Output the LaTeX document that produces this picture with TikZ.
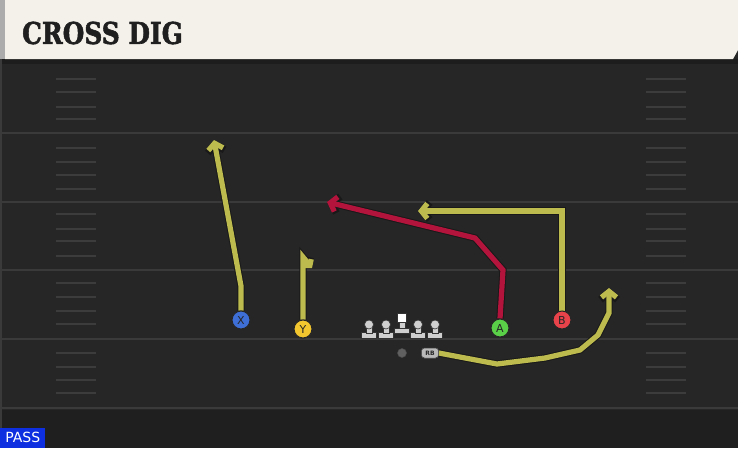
\documentclass[tikz,border=0pt]{standalone}
\usepackage{fontspec}
\setmainfont{DejaVu Sans}
\newfontfamily\titlefont{DejaVu Serif}[BoldFeatures={FakeBold=2}]
\usetikzlibrary{arrows.meta}
\definecolor{fieldbg}{HTML}{262626}
\definecolor{fielddark}{HTML}{1F1F1F}
\definecolor{yardline}{HTML}{3A3A3A}
\definecolor{hashcol}{HTML}{3C3C3C}
\definecolor{cream}{HTML}{F4F1EA}
\definecolor{routeyel}{HTML}{BDBB4E}
\definecolor{routered}{HTML}{B3143C}
\definecolor{pblue}{HTML}{3D6FD6}
\definecolor{pyellow}{HTML}{F2C62E}
\definecolor{pgreen}{HTML}{5ACF48}
\definecolor{pred}{HTML}{E8434B}
\definecolor{passblue}{HTML}{0D2FE0}
\definecolor{linegray}{HTML}{CFCFCF}
\tikzset{
  player/.style={circle, draw=black!85, line width=1pt, minimum size=18pt, inner sep=0pt,
    font=\fontsize{11}{11}\selectfont, text=black!85},
  routeunder/.style={draw=black!90, line width=7.2pt, line join=miter, -{Straight Barb[length=7pt,width=17pt,line width=7.2pt]}},
  routeyellow/.style={draw=routeyel, line width=5.2pt, line join=miter, -{Straight Barb[length=6pt,width=15pt,line width=5.2pt]}},
  routered/.style={draw=routered, line width=5.2pt, line join=miter, -{Straight Barb[length=6pt,width=15pt,line width=5.2pt]}},
  yard/.style={draw=yardline, line width=2pt},
  hashm/.style={draw=hashcol, line width=1.6pt},
  lineman/.style={fill=linegray, draw=black!80, line width=0.6pt},
  rbbox/.style={rounded corners=3pt, fill=gray!55, draw=black!75, line width=0.5pt, minimum width=17pt, minimum height=10pt, inner sep=0pt, font=\fontsize{6}{6}\selectfont\bfseries, text=black!85}
}
\begin{document}
\begin{tikzpicture}[x=1pt,y=-1pt]
\useasboundingbox (0,0) rectangle (738,448);
% field
\fill[fieldbg] (0,0) rectangle (738,448);
\fill[fielddark] (0,410) rectangle (738,448);
\fill[black!25!fieldbg] (0,59) rectangle (738,64);
\fill[yardline] (0,59) rectangle (2,448);
% yard lines
\foreach \y in {133,202,270,339,408} \draw[yard] (0,\y) -- (738,\y);
% hash marks
\foreach \y in {79,92,107,119,148,162,175,189,214,229,241,256,283,297,311,324,353,367,380,393} {
  \draw[hashm] (56,\y) -- (96,\y);
  \draw[hashm] (646,\y) -- (686,\y);
}
% title band
\fill[cream] (5,0) -- (738,0) -- (738,50) -- (733,59) -- (5,59) -- cycle;
\fill[gray!65] (0,0) rectangle (5,59);
\node[anchor=west, inner sep=0pt, xscale=0.83, font=\titlefont\fontsize{30}{30}\selectfont\bfseries, text=black!88] (title) at (22,33) {CROSS DIG};
% PASS label
\node[fill=passblue, text=white, anchor=south west, inner sep=0pt, minimum width=45pt, minimum height=20pt, font=\fontsize{14}{14}\selectfont] (pass) at (0,448) {PASS};
% players
\node[player, fill=pblue] (X) at (241,320) {X};
\node[player, fill=pyellow] (Y) at (303,329) {Y};
\node[player, fill=pgreen] (A) at (500,328) {A};
\node[player, fill=pred] (B) at (562,320) {B};
% route coordinates
\coordinate (x1) at (241,286);
\coordinate (xe) at (214,140);
\coordinate (y1) at (303,257);
\coordinate (ye) at (312,268);
\coordinate (a1) at (503,270);
\coordinate (a2) at (475,238);
\coordinate (ae) at (327,202);
\coordinate (b1) at (562,211);
\coordinate (be) at (418,211);
\coordinate (r1) at (497,364);
\coordinate (r2) at (545,358);
\coordinate (r3) at (580,350);
\coordinate (r4) at (598,335);
\coordinate (r5) at (609,313);
\coordinate (re) at (609,288);
% linemen
\foreach \lx in {369,386,418,435} {
  \filldraw[lineman] (\lx-7.5,332.5) rectangle (\lx+7.5,338);
  \filldraw[lineman] (\lx-3,326) rectangle (\lx+3,333);
  \filldraw[lineman] (\lx,324.5) circle (4.5);
}
\filldraw[lineman] (394.5,328) rectangle (409.5,333.5);
\filldraw[lineman] (399,321) rectangle (405,328.5);
\node[fill=white, draw=black!80, line width=0.6pt, minimum size=9pt, inner sep=0pt] (C) at (402,317.5) {};
% QB and RB
\node[circle, fill=gray!75!black, draw=black!70, line width=0.5pt, minimum size=9pt, inner sep=0pt] (QB) at (402,353) {};
\node[rbbox] (RB) at (430,353) {RB};
% routes (outline then colour)
\draw[routeunder] (X.north) -- (x1) -- (xe);
\draw[routeyellow] (X.north) -- (x1) -- (xe);
\draw[routeunder,-{Straight Barb[length=4.5pt,width=11pt,line width=7.2pt]}] (Y.north) -- (y1) -- (ye);
\draw[routeyellow,-{Straight Barb[length=4pt,width=10pt,line width=5.2pt]}] (Y.north) -- (y1) -- (ye);
\draw[routeunder] (A.north) -- (a1) -- (a2) -- (ae);
\draw[routered] (A.north) -- (a1) -- (a2) -- (ae);
\draw[routeunder] (B.north) -- (b1) -- (be);
\draw[routeyellow] (B.north) -- (b1) -- (be);
\draw[routeunder] (RB.east) -- (r1) -- (r2) -- (r3) -- (r4) -- (r5) -- (re);
\draw[routeyellow] (RB.east) -- (r1) -- (r2) -- (r3) -- (r4) -- (r5) -- (re);
% redraw players on top
\node[player, fill=pblue] at (X) {X};
\node[player, fill=pyellow] at (Y) {Y};
\node[player, fill=pgreen] at (A) {A};
\node[player, fill=pred] at (B) {B};
\node[rbbox] at (RB) {RB};
\end{tikzpicture}
\end{document}
